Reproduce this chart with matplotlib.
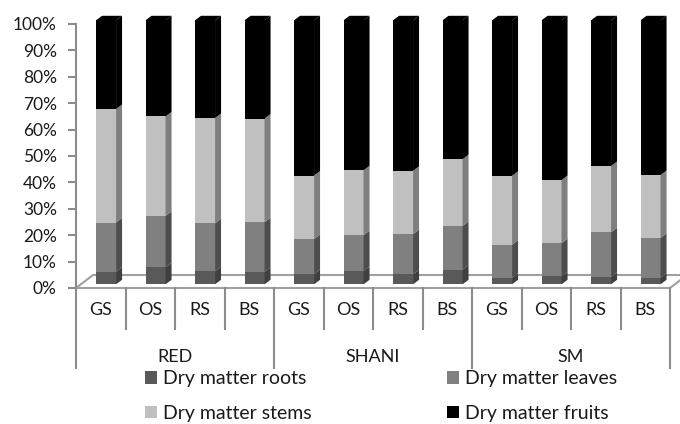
import matplotlib
matplotlib.use("Agg")
import matplotlib.pyplot as plt
import numpy as np
from matplotlib.transforms import ScaledTranslation, blended_transform_factory, IdentityTransform
from matplotlib.patches import Polygon, Patch

plt.rcParams['font.family'] = ['Lato', 'DejaVu Sans']

groups = ["RED", "SHANI", "SM"]
stages = ["GS", "OS", "RS", "BS"]
series_names = ["Dry matter roots", "Dry matter leaves", "Dry matter stems", "Dry matter fruits"]
roots  = [4.8, 6.4, 5.0, 4.7, 3.9, 5.0, 3.8, 5.6, 2.5, 3.0, 2.8, 2.5]
leaves = [18.6, 19.5, 18.1, 18.8, 13.2, 13.6, 15.2, 16.5, 12.5, 12.6, 16.9, 15.1]
stems  = [43.0, 37.7, 39.9, 39.3, 24.1, 24.6, 24.0, 25.3, 26.1, 23.9, 25.1, 23.8]
fruits = [33.6, 36.4, 37.0, 37.2, 58.8, 56.8, 57.0, 52.6, 58.9, 60.5, 55.2, 58.6]

front_colors = ["#595959", "#808080", "#c0c0c0", "#000000"]
side_colors = ["#3f3f3f", "#4d4d4d", "#7f7f7f", "#000000"]

W, H = 680, 424
fig = plt.figure(figsize=(W / 100, H / 100), dpi=100)
ax_l, ax_r, ax_t, ax_b = 76, 670, 24, 288
ax = fig.add_axes([ax_l / W, 1 - ax_b / H, (ax_r - ax_l) / W, (ax_b - ax_t) / H])
ax.set_xlim(0, 12)
ax.set_ylim(0, 100)
ax.patch.set_alpha(0)
for s in ["top", "right", "bottom"]:
    ax.spines[s].set_visible(False)
ax.spines["left"].set_color("#8c8c8c")
ax.spines["left"].set_linewidth(1.5)
ax.set_xticks([])
ax.set_yticks(np.arange(0, 101, 10))
ax.set_yticklabels([f"{v}%" for v in range(0, 101, 10)])
ax.tick_params(axis="y", direction="out", length=5.8, width=1.5, color="#8c8c8c",
               labelsize=12.5, labelcolor="#1a1a1a", pad=8)

n = len(roots)
x = np.arange(n) + 0.5
bw = 0.404
dx_px, dy_px = 5.3, 3.7
depth_x, depth_y = 6, 4.5
floor_dx, floor_dy = 17, 13

# floor
p0 = ax.transData.transform((0, 0))
p1 = ax.transData.transform((12, 0))
floor = Polygon([p0, p1, p1 + [floor_dx, floor_dy], p0 + [floor_dx, floor_dy]],
                closed=True, transform=IdentityTransform(), facecolor="white",
                edgecolor="#a0a0a0", linewidth=1.5, zorder=1, clip_on=False)
ax.add_patch(floor)

off = ax.transData + ScaledTranslation(dx_px / 100, dy_px / 100, fig.dpi_scale_trans)
data = [roots, leaves, stems, fruits]
bottom = np.zeros(n)
for k, vals in enumerate(data):
    vals = np.array(vals)
    ax.bar(x, vals, bw, bottom=bottom, color=front_colors[k], transform=off,
           zorder=3, clip_on=False, linewidth=0)
    for i in range(n):
        a = ax.transData.transform((x[i] + bw / 2, bottom[i])) + [dx_px, dy_px]
        b = ax.transData.transform((x[i] + bw / 2, bottom[i] + vals[i])) + [dx_px, dy_px]
        side = Polygon([a, b, b + [depth_x, depth_y], a + [depth_x, depth_y]], closed=True,
                       transform=IdentityTransform(), facecolor=side_colors[k],
                       edgecolor="none", zorder=3, clip_on=False)
        ax.add_patch(side)
    bottom = bottom + vals

# top caps
for i in range(n):
    a = ax.transData.transform((x[i] - bw / 2, bottom[i])) + [dx_px, dy_px]
    b = ax.transData.transform((x[i] + bw / 2, bottom[i])) + [dx_px, dy_px]
    cap = Polygon([a, b, b + [depth_x, depth_y], a + [depth_x, depth_y]], closed=True,
                  transform=IdentityTransform(), facecolor="#000000",
                  edgecolor="none", zorder=4, clip_on=False)
    ax.add_patch(cap)

# category axis lines
bt = blended_transform_factory(ax.transData, fig.transFigure)
y_top = 1 - 288 / H
y_short = 1 - 329 / H
y_long = 1 - 368 / H
for i in range(n + 1):
    yb = y_long if i % 4 == 0 else y_short
    ax.plot([i, i], [y_top, yb], transform=bt, color="#8c8c8c", lw=1.5, clip_on=False)
for i in range(n):
    ax.text(x[i], 1 - 310 / H, stages[i % 4], transform=bt, ha="center", va="center",
            fontsize=13, color="#1a1a1a")
for g, name in enumerate(groups):
    ax.text(4 * g + 2, 1 - 357 / H, name, transform=bt, ha="center", va="center",
            fontsize=13, color="#1a1a1a")

handles = [Patch(facecolor=front_colors[k], edgecolor="none") for k in [0, 2, 1, 3]]
labels = [series_names[k] for k in [0, 2, 1, 3]]
leg = fig.legend(handles, labels, ncol=2, loc="center", bbox_to_anchor=(381 / W, 1 - 396 / H),
                 frameon=False, fontsize=14, handlelength=0.6, handleheight=0.6,
                 handletextpad=0.3, columnspacing=7.0, labelspacing=0.9,
                 borderpad=0, borderaxespad=0, labelcolor="#1a1a1a")

fig.savefig("out.png", dpi=100)
